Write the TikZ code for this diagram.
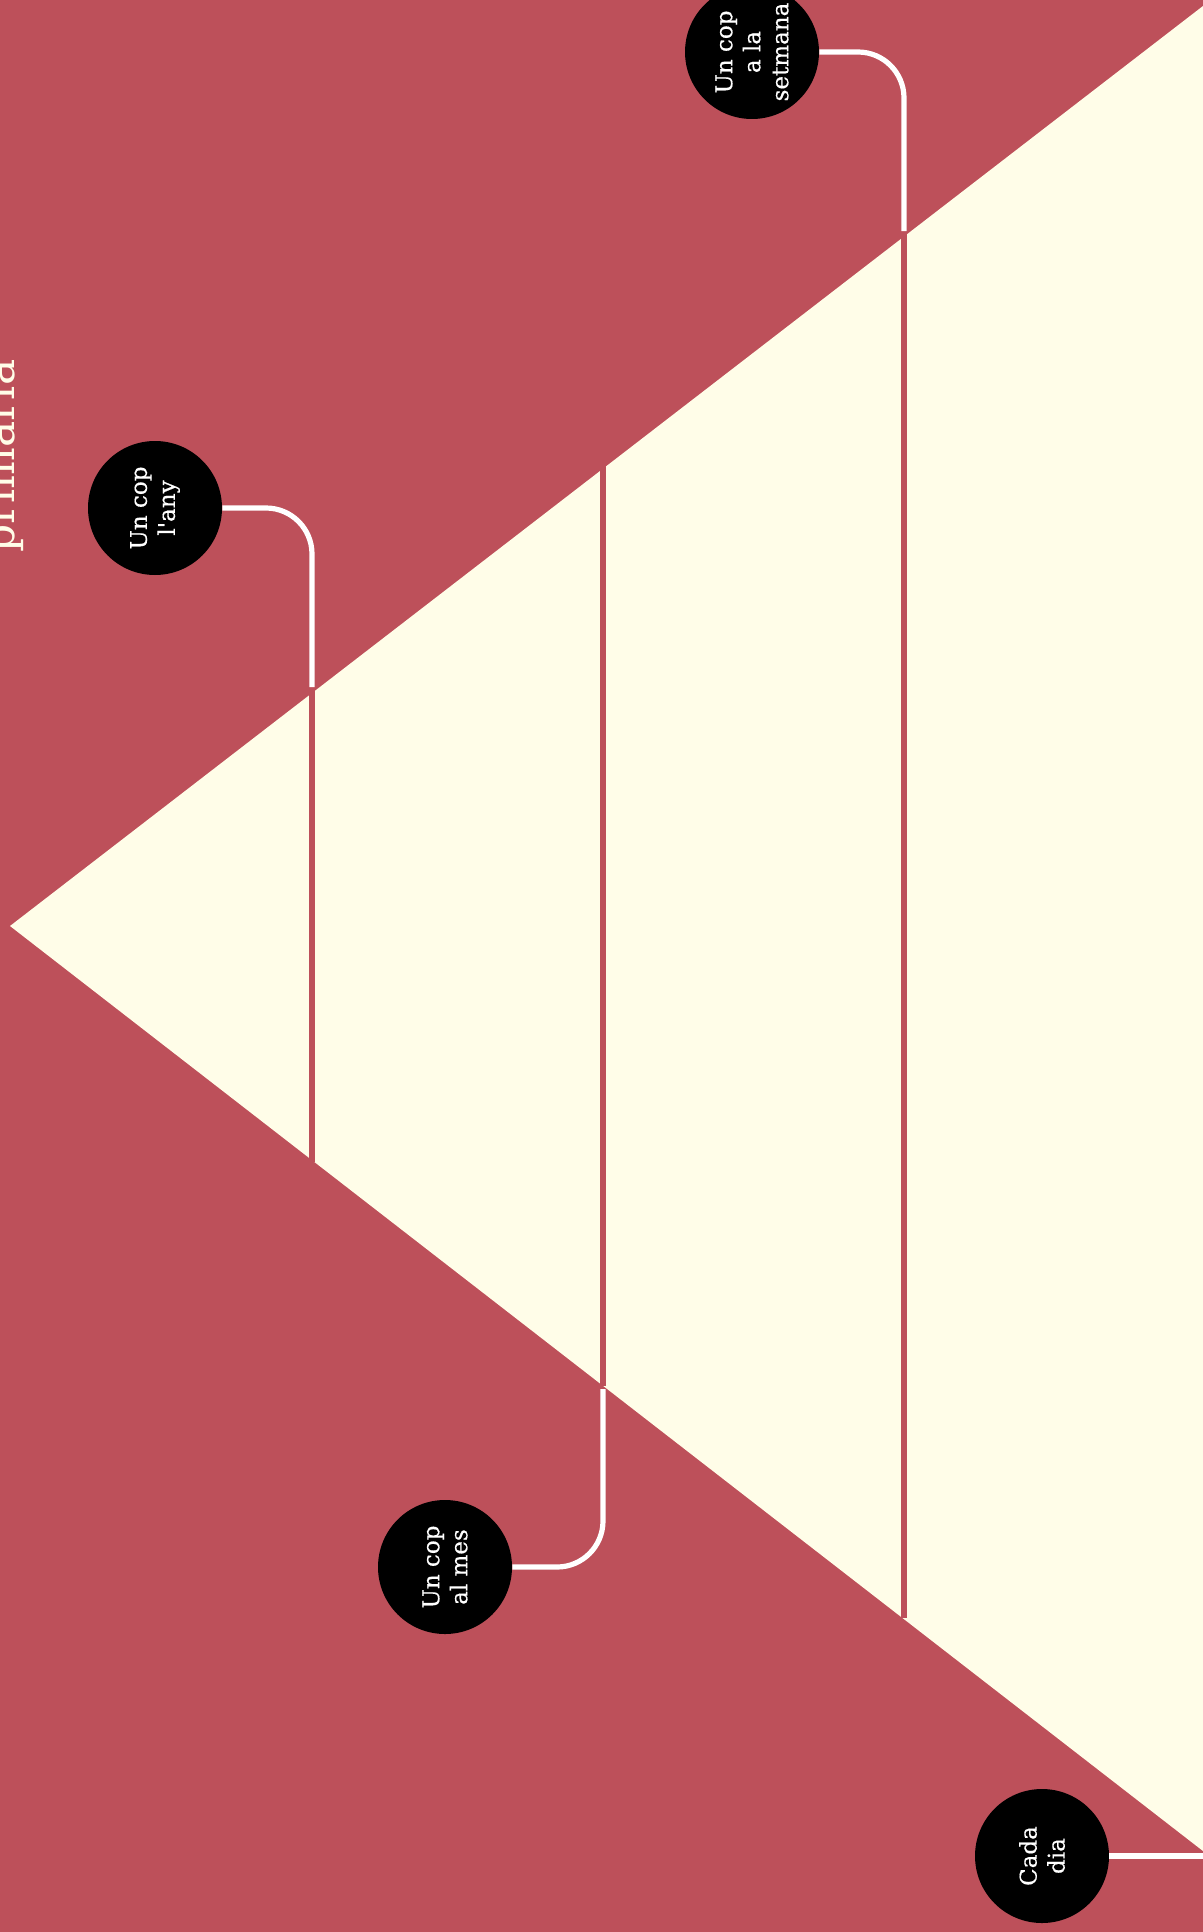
\documentclass[tikz,border=0pt]{standalone}
\usepackage{fontspec}
\setmainfont{DejaVu Serif}
\newfontfamily\lblfont[FakeBold=0.5]{DejaVu Serif}
\definecolor{bgred}{RGB}{189,80,90}
\definecolor{cream}{RGB}{255,253,232}
\begin{document}
\begin{tikzpicture}[x=0.5pt,y=-0.5pt,
  bub/.style={circle,fill=black,minimum size=67pt,inner sep=0pt},
  lbl/.style={rotate=90,text=white,align=center,font=\lblfont\fontsize{11.5}{14}\selectfont,inner sep=0pt},
  conn/.style={draw=white,line width=2.6pt,rounded corners=23pt},
  strip/.style={draw=bgred,line width=3pt}]
\useasboundingbox (0,0) rectangle (1203,1932);
\clip (0,0) rectangle (1203,1932);
\fill[bgred] (0,0) rectangle (1203,1932);
% pyramid
\coordinate (apex) at (10,926);
\coordinate (tr) at (1203,6);
\coordinate (br) at (1203,1851);
\fill[cream] (apex) -- (tr) -- (br) -- cycle;
% dividing strips
\coordinate (s1t) at (312,690); \coordinate (s1b) at (312,1162);
\coordinate (s2t) at (603,466); \coordinate (s2b) at (603,1386);
\coordinate (s3t) at (904,234); \coordinate (s3b) at (904,1618);
\draw[strip] (s1t) -- (s1b);
\draw[strip] (s2t) -- (s2b);
\draw[strip] (s3t) -- (s3b);
% title
\node[rotate=90,anchor=base,text=cream,inner sep=0pt,font=\fontsize{22}{26}\selectfont] (title) at (14,456) {primaria};
% bubbles
\node[bub] (yr) at (155,508) {};
\node[lbl] (yrt) at (yr.center) {Un cop\\l'any};
\node[bub] (wk) at (752,52) {};
\node[lbl] (wkt) at (wk.center) {Un cop\\a la\\setmana};
\node[bub] (mo) at (445,1567) {};
\node[lbl] (mot) at (mo.center) {Un cop\\al mes};
\node[bub] (dy) at (1042,1856) {};
\node[lbl] (dyt) at (dy.center) {Cada\\dia};
% connector ends
\coordinate (c1) at (312,687);
\coordinate (c2) at (603,1389);
\coordinate (c3) at (904,231);
\coordinate (c4) at (1203,1856);
\draw[conn] (yr.east) -| (c1);
\draw[conn] (wk.east) -| (c3);
\draw[conn] (mo.east) -| (c2);
\draw[conn] (dy.east) -- (c4);
\end{tikzpicture}
\end{document}
